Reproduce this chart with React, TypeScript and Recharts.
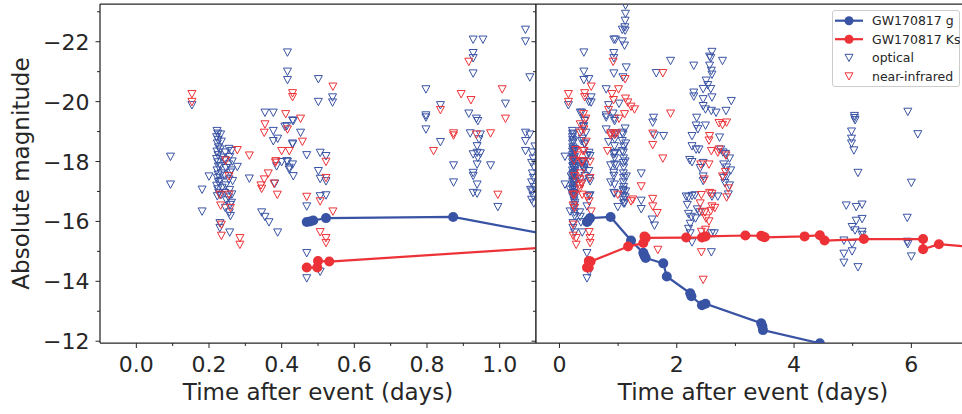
import { ScatterChart, Scatter, XAxis, YAxis, ReferenceLine } from "recharts";

type Pt = [number, number]; // [days after event, absolute magnitude]

const BLUE = "#3953a4";
const RED = "#ed3237";
const INK = "#262626";
const FONT = "DejaVu Sans, sans-serif";

// GW170817 light curves
const gBand: Pt[] = [
  [0.469, -15.98], [0.478, -16.0], [0.487, -16.03], [0.522, -16.11], [0.872, -16.15],
  [1.22, -15.36], [1.43, -14.95], [1.45, -14.85], [1.47, -14.78], [1.77, -14.6],
  [1.83, -14.16], [2.23, -13.6], [2.25, -13.5], [2.43, -13.2], [2.49, -13.25],
  [3.44, -12.6], [3.46, -12.5], [3.47, -12.37], [4.44, -11.93], [5.2, -11.5],
];

const ksBand: Pt[] = [
  [0.469, -14.46], [0.498, -14.46], [0.5, -14.68], [0.531, -14.66], [1.17, -15.16],
  [1.43, -15.28], [1.45, -15.5], [1.47, -15.45], [2.16, -15.46], [2.43, -15.46],
  [2.49, -15.5], [3.17, -15.53], [3.44, -15.52], [3.46, -15.5], [3.5, -15.47],
  [4.18, -15.5], [4.44, -15.54], [4.52, -15.36], [5.19, -15.41], [6.2, -15.41],
  [6.2, -15.07], [6.47, -15.24], [7.3, -15.1],
];

// optical upper limits
const opticalNight1: Pt[] = [
  [0.094, -18.16], [0.094, -17.23], [0.153, -19.88], [0.181, -17.06], [0.181, -16.33], [0.2, -17.5],
  [0.222, -19.02], [0.224, -18.93], [0.221, -18.81], [0.225, -18.72], [0.223, -18.6], [0.226, -18.47],
  [0.222, -18.33], [0.225, -18.21], [0.221, -18.08], [0.224, -17.97], [0.226, -17.83], [0.222, -17.7],
  [0.225, -17.56], [0.223, -17.44], [0.226, -17.31], [0.221, -17.19], [0.224, -17.07], [0.227, -16.95],
  [0.223, -16.84], [0.232, -18.9], [0.234, -18.66], [0.231, -18.4], [0.235, -18.13], [0.232, -17.85],
  [0.234, -17.6], [0.231, -17.35], [0.236, -17.12], [0.233, -16.88], [0.245, -18.3], [0.243, -18.05],
  [0.247, -17.78], [0.244, -17.52], [0.246, -17.2], [0.243, -16.95], [0.248, -16.7], [0.245, -16.45],
  [0.255, -18.42], [0.257, -18.15], [0.254, -17.9], [0.258, -17.63], [0.255, -17.4], [0.257, -17.05],
  [0.254, -16.8], [0.258, -16.55], [0.256, -16.3], [0.259, -16.18], [0.262, -18.35], [0.264, -18.0],
  [0.262, -17.7], [0.265, -17.35], [0.263, -16.9], [0.262, -16.62], [0.23, -15.94], [0.23, -15.78],
  [0.257, -15.63], [0.278, -17.82], [0.311, -17.43],
  [0.354, -19.63], [0.377, -19.63], [0.377, -19.02], [0.377, -18.68], [0.389, -18.76], [0.432, -19.35],
  [0.43, -18.57], [0.414, -19.18], [0.414, -18.01], [0.421, -17.79], [0.432, -17.51], [0.386, -17.84],
  [0.381, -17.26], [0.345, -16.3], [0.354, -16.15], [0.365, -15.97], [0.389, -15.63], [0.416, -21.64],
  [0.416, -21.0], [0.416, -20.72], [0.43, -19.37], [0.409, -19.16], [0.452, -18.96], [0.43, -18.6],
  [0.4, -17.98], [0.416, -17.99], [0.43, -17.9], [0.421, -17.73],
  [0.469, -18.21], [0.506, -18.29], [0.522, -18.18], [0.501, -17.68], [0.506, -17.42], [0.522, -17.34],
  [0.506, -16.84], [0.522, -16.87], [0.469, -16.5], [0.469, -14.94], [0.469, -14.1], [0.506, -14.32],
  [0.501, -20.75], [0.501, -19.99], [0.54, -20.14], [0.54, -19.97],
];

const opticalNight2: Pt[] = [
  [1.071, -22.4], [1.071, -22.01], [0.927, -22.07], [0.954, -22.07], [0.927, -21.62], [0.927, -21.45],
  [0.927, -20.94], [1.083, -20.81], [0.797, -20.41], [1.016, -19.93], [0.837, -19.88], [0.797, -19.54],
  [0.797, -19.47], [0.915, -19.6], [0.936, -19.43], [0.94, -19.35], [0.797, -19.07], [0.837, -18.65],
  [0.919, -18.94], [0.947, -18.9], [0.943, -18.74], [0.938, -18.51], [0.938, -18.29], [0.947, -18.27],
  [0.927, -18.24], [0.94, -18.12], [0.938, -17.9], [0.975, -17.87], [0.873, -17.87], [0.927, -17.62],
  [0.927, -17.52], [0.873, -17.3], [0.938, -17.23], [0.927, -16.95], [0.938, -16.93], [0.995, -16.48],
  [1.071, -18.96], [1.071, -18.68], [1.083, -18.9], [1.071, -18.35], [1.097, -18.5], [1.09, -18.3],
  [1.092, -18.1], [1.088, -17.95], [1.095, -17.8], [1.09, -17.6], [1.093, -17.45], [1.088, -17.3],
  [1.095, -17.15], [1.085, -17.05], [1.09, -17.0], [1.092, -16.85], [1.088, -16.72], [1.094, -16.6],
  [1.126, -23.21], [1.126, -22.93], [1.12, -22.7], [1.115, -22.48], [1.12, -22.37], [1.11, -21.87],
  [1.138, -21.14], [1.12, -19.1], [1.13, -18.6], [1.12, -18.0], [1.14, -17.5], [1.13, -17.0],
  [1.12, -16.8], [1.11, -16.6],
];

const opticalDays2to3: Pt[] = [
  [1.65, -20.95], [1.894, -21.36], [1.604, -19.46], [1.59, -19.3], [1.775, -18.85], [1.62, -18.87],
  [1.394, -17.6], [1.394, -16.69], [1.394, -16.41], [1.58, -16.06], [1.62, -15.86],
  [2.6, -21.66], [2.58, -21.45], [2.56, -21.5], [2.78, -21.36], [2.29, -21.2], [2.56, -21.2],
  [2.59, -21.03], [2.6, -20.9], [2.5, -20.7], [2.53, -20.55], [2.45, -20.42], [2.58, -20.42],
  [2.29, -20.3], [2.29, -20.17], [2.45, -20.08], [2.6, -20.14], [2.93, -20.02], [2.45, -19.85],
  [2.49, -19.74], [2.59, -19.69], [2.67, -19.63], [2.84, -19.69], [2.34, -19.46], [2.33, -19.2],
  [2.36, -19.08], [2.49, -19.2], [2.26, -18.85], [2.73, -18.8], [2.26, -18.51], [2.33, -18.4],
  [2.38, -18.4], [2.75, -18.4], [2.79, -18.3], [2.83, -18.25], [2.22, -18.05], [2.26, -17.98],
  [2.45, -17.95], [2.4, -17.78], [2.8, -17.9], [2.85, -17.8], [2.8, -17.45], [2.85, -17.5],
  [2.82, -17.28], [2.45, -17.5], [2.45, -17.35], [2.16, -16.83], [2.2, -16.8], [2.26, -16.85],
  [2.31, -16.87], [2.18, -16.55], [2.35, -16.4], [2.39, -16.3], [2.6, -16.83], [2.7, -16.83],
  [2.2, -16.25], [2.25, -16.15], [2.32, -16.1], [2.23, -15.92], [2.2, -15.75], [2.23, -15.6],
  [2.59, -15.6], [2.64, -15.6], [2.59, -14.97], [2.26, -15.3], [2.9, -18.1], [2.92, -17.7],
  [2.9, -17.2], [2.88, -16.9],
];

const opticalLate: Pt[] = [
  [5.03, -19.52], [5.03, -19.45], [5.04, -19.38], [4.98, -19.0], [4.98, -18.76], [4.98, -18.6],
  [5.02, -18.37], [5.09, -17.62], [4.89, -16.53], [5.06, -16.48], [5.16, -16.56], [5.06, -16.02],
  [5.16, -16.08], [4.99, -15.81], [5.04, -15.7], [5.16, -15.65], [5.16, -15.55], [4.85, -15.36],
  [4.99, -15.25], [4.99, -15.0], [4.85, -14.92], [4.85, -14.62], [5.09, -14.47], [5.94, -19.66],
  [6.11, -18.91], [6.0, -17.29], [5.93, -16.12], [5.93, -15.32], [5.94, -15.24], [6.0, -14.83],
];

// near-infrared upper limits
const nirNight1: Pt[] = [
  [0.153, -20.25], [0.153, -19.99], [0.278, -18.38], [0.311, -18.2], [0.246, -18.03], [0.255, -17.51],
  [0.23, -16.89], [0.255, -16.89], [0.232, -16.53], [0.259, -16.45], [0.234, -15.89], [0.234, -15.52],
  [0.285, -15.44], [0.285, -15.22],
  [0.354, -19.24], [0.352, -18.96], [0.411, -19.58], [0.416, -19.07], [0.4, -18.35], [0.421, -18.35],
  [0.384, -18.01], [0.363, -17.6], [0.352, -17.4], [0.343, -17.2], [0.345, -17.09], [0.379, -17.26],
  [0.388, -16.89], [0.43, -20.28], [0.43, -20.15], [0.452, -19.43], [0.457, -18.66], [0.383, -17.96],
  [0.541, -20.5], [0.522, -17.99], [0.522, -17.45], [0.469, -16.82], [0.506, -16.67], [0.541, -16.33],
  [0.506, -15.64], [0.522, -15.44], [0.522, -15.28],
];

const nirNight2: Pt[] = [
  [0.915, -21.33], [1.007, -20.41], [0.894, -20.25], [0.921, -20.05], [0.837, -19.72], [1.016, -19.43],
  [0.873, -18.94], [0.873, -18.87], [0.936, -18.9], [0.975, -18.94], [0.818, -18.35], [0.995, -16.89],
  [1.12, -20.75], [1.126, -20.1], [1.166, -19.97], [1.22, -19.83], [1.28, -19.74], [1.11, -19.58],
];

const nirDays2to3: Pt[] = [
  [1.59, -18.93], [1.59, -18.55], [1.763, -18.1], [1.394, -17.17], [1.25, -16.73], [1.22, -16.67],
  [1.59, -16.75], [1.59, -16.5], [1.667, -16.28], [1.678, -15.05], [1.763, -20.95], [1.894, -19.6],
  [2.45, -14.05], [2.42, -14.97],
  [2.72, -19.28], [2.78, -19.22], [2.85, -19.3], [2.56, -18.85], [2.55, -18.7], [2.72, -18.4],
  [2.7, -18.3], [2.84, -18.2], [2.59, -18.35], [2.55, -17.9], [2.41, -17.9], [2.83, -17.65],
  [2.78, -17.5], [2.47, -17.4], [2.56, -16.95], [2.6, -16.92], [2.42, -16.88], [2.4, -16.6],
  [2.6, -16.5], [2.65, -16.45], [2.58, -16.35], [2.48, -16.3], [2.43, -16.32], [2.5, -16.1],
  [2.55, -16.0], [2.49, -15.72], [2.42, -15.65], [2.88, -17.1], [2.85, -16.8],
];

const magDomain: [number, number] = [-23.26, -11.94];
const magTicks = [-23, -22, -21, -20, -19, -18, -17, -16, -15, -14, -13, -12];
const magMajor = [-22, -20, -18, -16, -14, -12];

const zoomDomain: [number, number] = [-0.1, 1.1];
const zoomTicks = [0, 0.1, 0.2, 0.3, 0.4, 0.5, 0.6, 0.7, 0.8, 0.9, 1.0];
const zoomMajor = [0, 0.2, 0.4, 0.6, 0.8, 1.0];

const fullDomain: [number, number] = [-0.4, 7];
const fullTicks = [0, 1, 2, 3, 4, 5, 6];
const fullMajor = [0, 2, 4, 6];

const rows = (pts: Pt[]) => pts.map(([t, mag]) => ({ t, mag }));
const optical = rows([...opticalNight1, ...opticalNight2, ...opticalDays2to3, ...opticalLate]);
const nir = rows([...nirNight1, ...nirNight2, ...nirDays2to3]);
const gRows = rows(gBand);
const ksRows = rows(ksBand);

const fmtMag = (v: number) => (v < 0 ? `\u2212${Math.abs(v)}` : `${v}`);

const triangle = (color: string) => (props: any) => {
  const { cx, cy } = props;
  if (cx == null || cy == null) return <g />;
  return (
    <path
      d={`M${cx - 4},${cy - 3.6}L${cx + 4},${cy - 3.6}L${cx},${cy + 3.8}Z`}
      fill="none"
      stroke={color}
      strokeWidth={1}
    />
  );
};

const dot = (color: string) => (props: any) => {
  const { cx, cy } = props;
  if (cx == null || cy == null) return <g />;
  return <circle cx={cx} cy={cy} r={5} fill={color} />;
};

const magTick = (labels: boolean) => (p: any) => {
  const { x, y, payload } = p;
  const major = magMajor.includes(payload.value);
  const len = major ? 4.5 : 3;
  return (
    <g>
      <line x1={x - len} x2={x} y1={y} y2={y} stroke={INK} strokeWidth={1} />
      {labels && major && (
        <text x={x - len - 6} y={y + 8} textAnchor="end" fontSize={22} fill={INK} fontFamily={FONT}>
          {fmtMag(payload.value)}
        </text>
      )}
    </g>
  );
};

const timeTick = (majors: number[], fmt: (v: number) => string) => (p: any) => {
  const { x, y, payload } = p;
  const major = majors.includes(payload.value);
  const len = major ? 5 : 3;
  return (
    <g>
      <line x1={x} x2={x} y1={y} y2={y + len} stroke={INK} strokeWidth={1} />
      {major && (
        <text x={x} y={y + 29} textAnchor="middle" fontSize={22} fill={INK} fontFamily={FONT}>
          {fmt(payload.value)}
        </text>
      )}
    </g>
  );
};

type PanelProps = {
  width: number;
  axisWidth: number;
  xDomain: [number, number];
  xTicks: number[];
  xMajor: number[];
  xFmt: (v: number) => string;
  magLabels: boolean;
  timeLabelX: number;
  closeRight: boolean;
};

const Panel = ({ width, axisWidth, xDomain, xTicks, xMajor, xFmt, magLabels, timeLabelX, closeRight }: PanelProps) => (
  <ScatterChart width={width} height={414} margin={{ top: 4, right: 0, bottom: 0, left: 0 }}>
    <XAxis
      type="number"
      dataKey="t"
      domain={xDomain}
      allowDataOverflow
      ticks={xTicks}
      interval={0}
      tickSize={0}
      tickMargin={0}
      tickLine={false}
      height={71}
      axisLine={{ stroke: INK, strokeWidth: 1.25 }}
      tick={timeTick(xMajor, xFmt)}
      label={{
        content: () => (
          <text x={timeLabelX} y={400} textAnchor="middle" fontSize={23} fill={INK} fontFamily={FONT}>
            Time after event (days)
          </text>
        ),
      }}
    />
    <YAxis
      type="number"
      dataKey="mag"
      domain={magDomain}
      reversed
      allowDataOverflow
      ticks={magTicks}
      interval={0}
      tickSize={0}
      tickMargin={0}
      tickLine={false}
      width={axisWidth}
      axisLine={{ stroke: INK, strokeWidth: 1.25 }}
      tick={magTick(magLabels)}
      label={
        magLabels
          ? {
              content: () => (
                <text
                  x={29}
                  y={173.5}
                  transform="rotate(-90 29 173.5)"
                  textAnchor="middle"
                  fontSize={23}
                  fill={INK}
                  fontFamily={FONT}
                >
                  Absolute magnitude
                </text>
              ),
            }
          : undefined
      }
    />
    <ReferenceLine y={magDomain[0]} stroke={INK} strokeWidth={1.25} />
    {closeRight && <ReferenceLine x={xDomain[1]} stroke={INK} strokeWidth={1.25} />}
    <Scatter data={optical} shape={triangle(BLUE)} isAnimationActive={false} />
    <Scatter data={nir} shape={triangle(RED)} isAnimationActive={false} />
    <Scatter
      data={gRows}
      shape={dot(BLUE)}
      line={{ stroke: BLUE, strokeWidth: 2.2 }}
      lineType="joint"
      isAnimationActive={false}
    />
    <Scatter
      data={ksRows}
      shape={dot(RED)}
      line={{ stroke: RED, strokeWidth: 2.2 }}
      lineType="joint"
      isAnimationActive={false}
    />
  </ScatterChart>
);

const legendItems = [
  { label: "GW170817 g", color: BLUE, kind: "line" },
  { label: "GW170817 Ks", color: RED, kind: "line" },
  { label: "optical", color: BLUE, kind: "tri" },
  { label: "near-infrared", color: RED, kind: "tri" },
];

const LegendBox = () => (
  <div
    style={{
      position: "absolute",
      left: 832,
      top: 10,
      width: 128,
      height: 77,
      border: "1px solid #cccccc",
      borderRadius: 3,
      background: "rgba(255,255,255,0.85)",
      boxSizing: "border-box",
    }}
  >
    <svg width={128} height={77} style={{ position: "absolute", left: -1, top: -1 }}>
      {legendItems.map((item, i) => {
        const y = 10.7 + i * 18.5;
        return (
          <g key={item.label}>
            {item.kind === "line" ? (
              <>
                <line x1={3} x2={31} y1={y} y2={y} stroke={item.color} strokeWidth={2.2} />
                <circle cx={17} cy={y} r={4.5} fill={item.color} />
              </>
            ) : (
              <path
                d={`M${13},${y - 3.4}L${21},${y - 3.4}L${17},${y + 3.8}Z`}
                fill="none"
                stroke={item.color}
                strokeWidth={1}
              />
            )}
            <text x={40} y={y + 4.5} fontSize={12.5} fill={INK} fontFamily={FONT}>
              {item.label}
            </text>
          </g>
        );
      })}
    </svg>
  </div>
);

export default function App() {
  return (
    <div
      style={{
        position: "absolute",
        left: 0,
        top: 0,
        width: 962,
        height: 414,
        overflow: "hidden",
        background: "#ffffff",
      }}
    >
      <div style={{ position: "absolute", left: 0, top: 0 }}>
        <Panel
          width={536}
          axisWidth={100}
          xDomain={zoomDomain}
          xTicks={zoomTicks}
          xMajor={zoomMajor}
          xFmt={(v) => v.toFixed(1)}
          magLabels
          timeLabelX={318}
          closeRight
        />
      </div>
      <div style={{ position: "absolute", left: 526, top: 0 }}>
        <Panel
          width={444}
          axisWidth={10}
          xDomain={fullDomain}
          xTicks={fullTicks}
          xMajor={fullMajor}
          xFmt={(v) => `${v}`}
          magLabels={false}
          timeLabelX={227}
          closeRight={false}
        />
      </div>
      <LegendBox />
    </div>
  );
}
